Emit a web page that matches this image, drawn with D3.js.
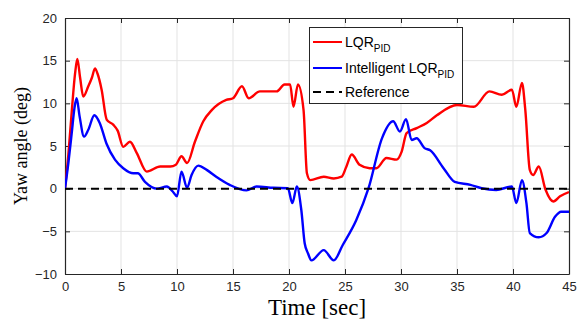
<!DOCTYPE html>
<html><head><meta charset="utf-8">
<script src="https://cdn.jsdelivr.net/npm/d3@7"></script>
<style>body{margin:0;background:#fff}svg{display:block}</style>
</head><body>
<svg id="chart" width="578" height="321"></svg>
<script>
const xTicks = [0,5,10,15,20,25,30,35,40,45];
const yTicks = [-10,-5,0,5,10,15,20];

const lqrTime = [0,0.3,0.6,0.9,1.1,1.35,1.63,2.08,2.4,2.68,2.9,3.27,3.72,4.3,4.7,5.2,5.8,6.4,7.3,8.5,9.4,9.9,10.4,10.9,11.6,12.35,13.1,14.4,15.0,15.8,16.4,17.4,18.9,19.6,20.1,20.4,20.8,21.3,21.6,21.9,23.1,24.0,24.7,25.1,25.6,26.3,27.2,27.8,28.7,29.6,30.06,30.5,31.4,32.3,33.2,35.0,36.5,37.9,39.0,39.9,40.3,40.8,41.1,41.5,41.8,42.3,42.9,43.6,44.2,45];
const lqrYaw  = [0,4,9,13.5,15.2,13,10.8,12.0,13,14.1,13.5,11.6,8.1,7.5,6.8,4.9,5.5,4.2,2.0,2.6,2.6,2.8,3.8,3.0,5.5,7.9,9.2,10.4,10.6,12.0,10.6,11.4,11.4,12.2,12.2,9.6,12.2,9.2,1.8,1.0,1.4,1.2,1.4,2.5,4.0,2.8,2.4,2.4,3.6,3.4,4.35,6.5,7.1,7.7,8.6,9.8,9.6,11.4,11.0,11.6,9.6,12.4,9.2,2.2,1.6,2.6,-0.1,-1.5,-0.9,-0.4];

const intTime = [0,0.3,0.6,0.85,1.04,1.3,1.7,2.08,2.62,3.1,3.7,4.46,5.2,6.1,6.5,7.14,8.2,9.1,9.6,10.0,10.4,10.9,11.3,11.9,12.65,13.5,14.7,16.2,17.1,18.6,19.9,20.3,20.7,21.1,21.4,21.7,22.0,23.1,24.0,24.8,26.0,27.1,28.3,29.3,29.9,30.45,30.95,31.4,32.1,32.6,33.8,34.8,36.2,37.2,38.5,39.9,40.3,40.8,41.2,41.5,42.3,43.0,43.75,44.3,45];
const intYaw  = [0,3,6.5,9.5,10.6,8.5,6.1,6.9,8.6,7.7,5.3,3.4,2.4,1.8,1.8,0.8,0,0.25,-0.3,-0.9,2.0,0.1,1.6,2.7,2.2,1.4,0.45,-0.2,0.25,0.1,0.05,-1.7,0.25,-2.5,-6.4,-7.6,-8.4,-7.2,-8.4,-6.6,-3.7,0.05,5.9,7.9,6.7,8.15,5.7,5.9,4.75,4.5,2.4,0.8,0.45,0.05,-0.15,0.25,-1.7,1.0,-1.7,-5.2,-5.7,-5.2,-3.3,-2.7,-2.7];

const refTime = [0,45];
const refYaw = [0,0];

const seriesNames = ["LQR", "Intelligent LQR", "Reference"];

const svg = d3.select("#chart");
const L = 65, R = 569, T = 18, B = 274;
const x = d3.scaleLinear().domain([0,45]).range([L,R]);
const y = d3.scaleLinear().domain([-10,20]).range([B,T]);
const axisColor = "#262626";

// grid
svg.append("g").selectAll("line").data(xTicks.slice(1,-1)).join("line")
  .attr("x1",d=>x(d)).attr("x2",d=>x(d)).attr("y1",T).attr("y2",B)
  .attr("stroke","#e3e3e3").attr("stroke-width",1);
svg.append("g").selectAll("line").data(yTicks.slice(1,-1)).join("line")
  .attr("y1",d=>y(d)).attr("y2",d=>y(d)).attr("x1",L).attr("x2",R)
  .attr("stroke","#e3e3e3").attr("stroke-width",1);

// axes
const fs = "13px";
const ff = "'Liberation Sans', Arial, Helvetica, sans-serif";
const gx = svg.append("g").attr("transform",`translate(0,${B})`)
  .call(d3.axisBottom(x).tickValues(xTicks).tickSize(-5).tickPadding(8).tickSizeOuter(0));
const gxt = svg.append("g").attr("transform",`translate(0,${T})`)
  .call(d3.axisTop(x).tickValues(xTicks).tickSize(-5).tickFormat("").tickSizeOuter(0));
const gy = svg.append("g").attr("transform",`translate(${L},0)`)
  .call(d3.axisLeft(y).tickValues(yTicks).tickSize(-5).tickPadding(8).tickSizeOuter(0));
const gyr = svg.append("g").attr("transform",`translate(${R},0)`)
  .call(d3.axisRight(y).tickValues(yTicks).tickSize(-5).tickFormat("").tickSizeOuter(0));
[gx,gxt,gy,gyr].forEach(g=>{
  g.selectAll("path").attr("stroke",axisColor).attr("stroke-width",1.2);
  g.selectAll("line").attr("stroke",axisColor);
  g.selectAll("text").attr("fill",axisColor).style("font-size",fs).style("font-family",ff);
});

// data
const clip = svg.append("clipPath").attr("id","clip").append("rect")
  .attr("x",L).attr("y",T).attr("width",R-L).attr("height",B-T);
const line = d3.line().x(d=>x(d[0])).y(d=>y(d[1])).curve(d3.curveMonotoneX);
const plot = svg.append("g").attr("clip-path","url(#clip)");
plot.append("path").datum(lqrTime.map((t,i)=>[t,lqrYaw[i]]))
  .attr("d",line).attr("fill","none").attr("stroke","#ff0000").attr("stroke-width",2.4).attr("stroke-linejoin","round");
plot.append("path").datum(intTime.map((t,i)=>[t,intYaw[i]]))
  .attr("d",line).attr("fill","none").attr("stroke","#0000ff").attr("stroke-width",2.4).attr("stroke-linejoin","round");
plot.append("path").datum(refTime.map((t,i)=>[t,refYaw[i]]))
  .attr("d",d3.line().x(d=>x(d[0])).y(d=>y(d[1]))).attr("fill","none").attr("stroke","#000")
  .attr("stroke-width",2).attr("stroke-dasharray","8,5");

// axis labels
svg.append("text").attr("x",(L+R)/2).attr("y",315).attr("text-anchor","middle")
  .style("font-family","'Liberation Serif','Times New Roman',serif").style("font-size","23px")
  .attr("fill","#000").text("Time [sec]");
svg.append("text").attr("transform",`translate(27,${(T+B)/2}) rotate(-90)`).attr("text-anchor","middle")
  .style("font-family","'Liberation Serif','Times New Roman',serif").style("font-size","18px")
  .attr("fill","#000").text("Yaw angle (deg)");

// legend
const lg = svg.append("g");
lg.append("rect").attr("x",309.5).attr("y",27.5).attr("width",153).attr("height",76)
  .attr("fill","#fff").attr("stroke",axisColor).attr("stroke-width",1);
const items = [
  {name:seriesNames[0], sub:"PID", color:"#ff0000", dash:null, yy:42},
  {name:seriesNames[1], sub:"PID", color:"#0000ff", dash:null, yy:68},
  {name:seriesNames[2], sub:"", color:"#000", dash:"8,5", yy:92}
];
items.forEach(it=>{
  lg.append("line").attr("x1",313).attr("x2",342).attr("y1",it.yy).attr("y2",it.yy)
    .attr("stroke",it.color).attr("stroke-width",2).attr("stroke-dasharray",it.dash);
  const t = lg.append("text").attr("x",345).attr("y",it.yy+5)
    .style("font-family",ff).style("font-size","14px").attr("fill","#000");
  t.append("tspan").text(it.name);
  if(it.sub) t.append("tspan").attr("dy",5).style("font-size","10px").text(it.sub);
});
</script>
</body></html>
